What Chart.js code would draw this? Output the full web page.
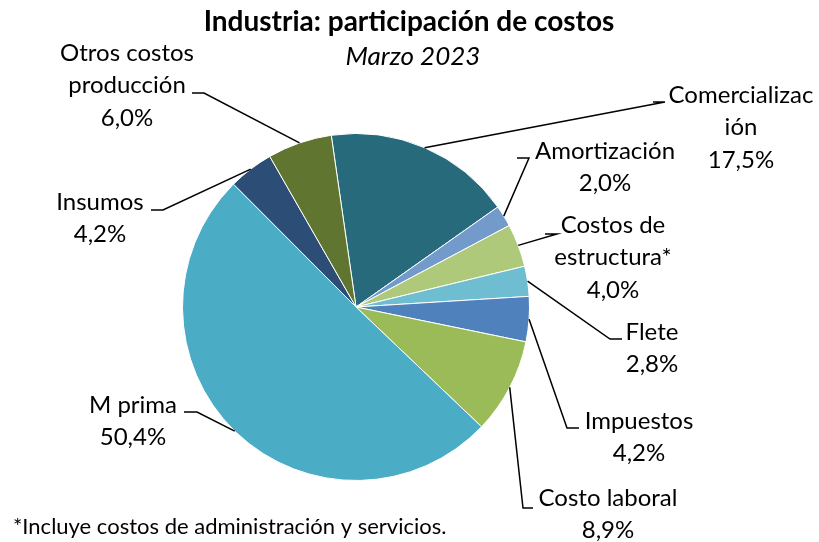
<!DOCTYPE html>
<html>
<head>
<meta charset="utf-8">
<script src="https://cdn.jsdelivr.net/npm/chart.js@4/dist/chart.umd.min.js"></script>
<style>
  html, body { margin: 0; padding: 0; background: #fff; }
  #wrap { width: 819px; height: 542px; position: relative; }
</style>
</head>
<body>
<div id="wrap"><canvas id="pieChart" width="819" height="542"></canvas></div>
<script>
// data, clockwise from the top
const categories = ["Comercialización", "Amortización", "Costos de estructura*", "Flete",
  "Impuestos", "Costo laboral", "M prima", "Insumos", "Otros costos producción"];
const shares = [17.5, 2.0, 4.0, 2.8, 4.2, 8.9, 50.4, 4.2, 6.0];
const sliceColors = ["#276A7C", "#729ACA", "#AFC97A", "#6FBDD1", "#4F81BD",
  "#9BBB59", "#4BACC6", "#2C4D75", "#5F7530"];

const titleText = "Industria: participación de costos";
const subtitleText = "Marzo 2023";
const footnoteText = "*Incluye costos de administración y servicios.";

// label text lines (name split like the original) and where they sit
const labelLines = [
  ["Comercializac", "ión"], ["Amortización"], ["Costos de", "estructura*"], ["Flete"],
  ["Impuestos"], ["Costo laboral"], ["M prima"], ["Insumos"], ["Otros costos", "producción"]
];
// [text centre x, first line centre y, elbow x, elbow y, tail x]
const labelLayout = [
  [741, 95, 665, 102, 653],
  [605, 151, 529, 158, 517],
  [613, 225, 557, 234, 545],
  [652, 332, 610, 339, 622],
  [639, 421, 567, 428, 579],
  [608, 498, 523, 508, 533],
  [133, 405, 197, 412, 184],
  [100, 202, 163, 210, 151],
  [127, 53, 204, 93, 192]
];

const FONT = "Lato, 'Noto Sans', sans-serif";
const LINE_H = 32.5;

function fmtPct(v) {
  return v.toFixed(1).replace(".", ",") + "%";
}

const labelPlugin = {
  id: "pieLabels",
  afterDraw(chart) {
    const ctx = chart.ctx;
    const arcs = chart.getDatasetMeta(0).data;
    ctx.save();

    // titles
    ctx.fillStyle = "#000";
    ctx.textAlign = "center";
    ctx.textBaseline = "middle";
    ctx.font = "bold 28px " + FONT;
    ctx.fillText(titleText, 409, 22);
    ctx.font = "italic 26px " + FONT;
    ctx.fillText(subtitleText, 413, 57);

    // leader lines + labels
    ctx.strokeStyle = "#000";
    ctx.lineWidth = 1.5;
    arcs.forEach((arc, i) => {
      const p = arc.getProps(["x", "y", "startAngle", "endAngle", "outerRadius"], true);
      const mid = (p.startAngle + p.endAngle) / 2;
      const ex = p.x + Math.cos(mid) * p.outerRadius;
      const ey = p.y + Math.sin(mid) * p.outerRadius;
      const L = labelLayout[i];
      ctx.beginPath();
      ctx.moveTo(ex, ey);
      ctx.lineTo(L[2], L[3]);
      ctx.lineTo(L[4], L[3]);
      ctx.stroke();

      ctx.font = "24px " + FONT;
      const lines = labelLines[i].concat([fmtPct(shares[i])]);
      lines.forEach((t, k) => ctx.fillText(t, L[0], L[1] + k * LINE_H));
    });

    ctx.font = "22px " + FONT;
    ctx.textAlign = "left";
    ctx.fillText(footnoteText, 13, 527);
    ctx.restore();
  }
};

new Chart(document.getElementById("pieChart"), {
  type: "pie",
  data: {
    labels: categories,
    datasets: [{
      data: shares,
      backgroundColor: sliceColors,
      borderColor: "#ffffff",
      borderWidth: 1
    }]
  },
  options: {
    responsive: false,
    animation: false,
    rotation: -8.2,
    layout: { padding: { top: 133, bottom: 61, left: 182, right: 289 } },
    plugins: {
      legend: { display: false },
      tooltip: { enabled: false }
    }
  },
  plugins: [labelPlugin]
});
</script>
</body>
</html>
